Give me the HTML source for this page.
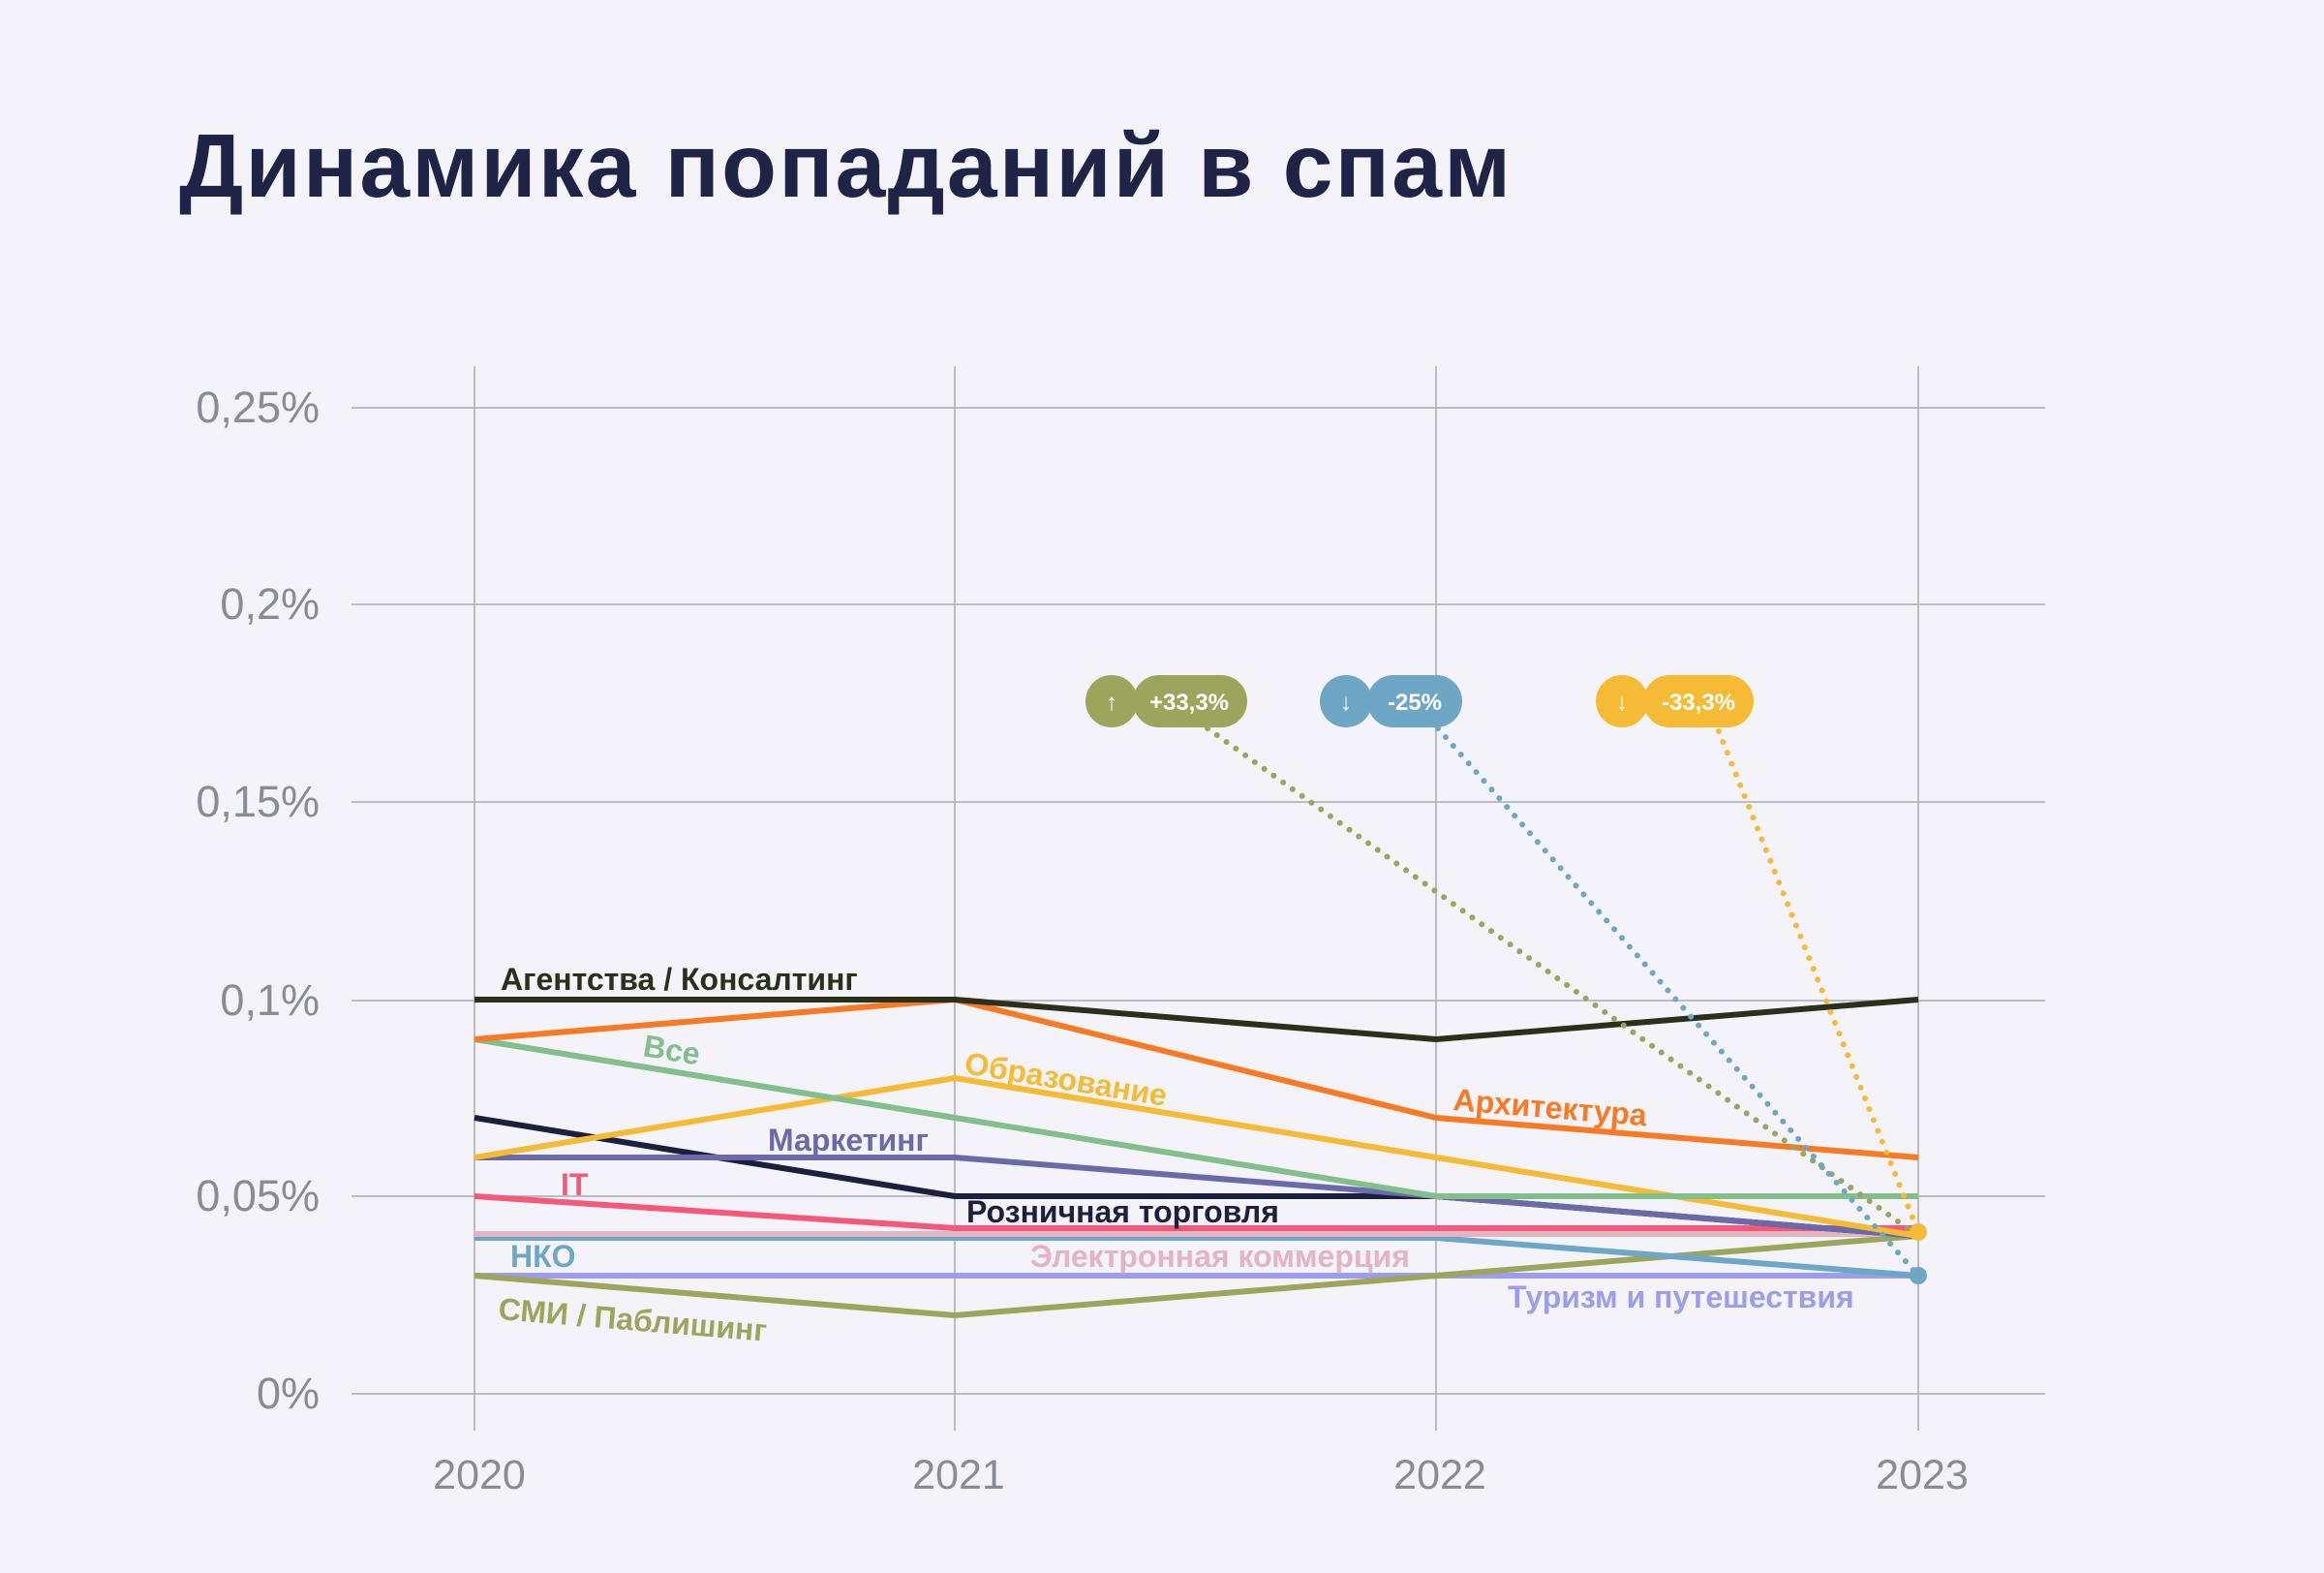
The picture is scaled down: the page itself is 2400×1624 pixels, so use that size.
<!DOCTYPE html>
<html><head><meta charset="utf-8"><style>
body{margin:0;background:#f3f3f9;}
svg{display:block}
</style></head><body>
<svg width="2400" height="1624" viewBox="0 0 2400 1624" xmlns="http://www.w3.org/2000/svg" font-family="Liberation Sans, DejaVu Sans, sans-serif">
<rect width="2400" height="1624" fill="#f3f3f9"/>
<text x="185" y="203" font-size="93" font-weight="bold" fill="#1f2346" textLength="1375" lengthAdjust="spacing">Динамика попаданий в спам</text>
<g stroke="#a9a9b3" stroke-width="1.5">
<line x1="490" y1="378" x2="490" y2="1477"/><line x1="986" y1="378" x2="986" y2="1477"/>
<line x1="1483" y1="378" x2="1483" y2="1477"/><line x1="1981" y1="378" x2="1981" y2="1477"/>
<line x1="363" y1="421" x2="2112" y2="421"/><line x1="363" y1="624" x2="2112" y2="624"/>
<line x1="363" y1="828" x2="2112" y2="828"/><line x1="363" y1="1033" x2="2112" y2="1033"/>
<line x1="363" y1="1235" x2="2112" y2="1235"/><line x1="363" y1="1439" x2="2112" y2="1439"/>
</g>
<g font-size="45" fill="#8a8b99" text-anchor="end">
<text x="330" y="436">0,25%</text><text x="330" y="639">0,2%</text><text x="330" y="843">0,15%</text>
<text x="330" y="1048">0,1%</text><text x="330" y="1250">0,05%</text><text x="330" y="1454">0%</text>
</g>
<g font-size="43" fill="#8a8b99" text-anchor="middle">
<text x="495" y="1537">2020</text><text x="990" y="1537">2021</text><text x="1487" y="1537">2022</text><text x="1985" y="1537">2023</text>
</g>
<g fill="none" stroke-width="6" stroke-linejoin="round">
<polyline stroke="#9c9dec" points="490,1317 986,1317 1483,1317 1981,1317"/>
<polyline stroke="#9da45c" points="490,1317 986,1358 1483,1317 1981,1276"/>
<polyline stroke="#6ea6c6" points="490,1278 986,1278 1483,1278 1981,1317"/>
<polyline stroke="#e3b4c2" points="490,1274 986,1274 1483,1274 1981,1274"/>
<polyline stroke="#f5587a" points="490,1235 986,1268 1483,1268 1981,1268"/>
<polyline stroke="#1c1f3e" points="490,1154 986,1235 1483,1235 1981,1276"/>
<polyline stroke="#6a6aaa" points="490,1195 986,1195 1483,1235 1981,1276"/>
<polyline stroke="#f5bb35" points="490,1195 986,1113 1483,1195 1981,1276"/>
<polyline stroke="#82bf8a" points="490,1073 986,1154 1483,1235 1981,1235"/>
<polyline stroke="#f97a22" points="490,1073 986,1032 1483,1154 1981,1195"/>
<polyline stroke="#2a3019" points="490,1032 986,1032 1483,1073 1981,1032"/>
</g>
<g stroke-width="6" stroke-linecap="round" stroke-dasharray="0 12" fill="none">
<line x1="1247" y1="752" x2="1981" y2="1276" stroke="#9da45c"/>
<line x1="1485" y1="752" x2="1981" y2="1317" stroke="#6ea6c6"/>
<line x1="1775" y1="755" x2="1981" y2="1272" stroke="#f5bb35"/>
</g>
<circle cx="1981" cy="1272" r="9" fill="#f5bb35"/>
<circle cx="1981" cy="1317" r="9" fill="#6ea6c6"/>
<g font-size="24" font-weight="bold" fill="#fff">
<circle cx="1148" cy="724" r="27" fill="#9da45c"/><rect x="1170" y="697" width="118" height="54" rx="27" fill="#9da45c"/>
<text x="1148" y="733" text-anchor="middle">↑</text><text x="1228" y="733" text-anchor="middle">+33,3%</text>
<circle cx="1390" cy="724" r="27" fill="#6ea6c6"/><rect x="1412" y="697" width="98" height="54" rx="27" fill="#6ea6c6"/>
<text x="1390" y="733" text-anchor="middle">↓</text><text x="1461" y="733" text-anchor="middle">-25%</text>
<circle cx="1675" cy="724" r="27" fill="#f5bb35"/><rect x="1697" y="697" width="114" height="54" rx="27" fill="#f5bb35"/>
<text x="1675" y="733" text-anchor="middle">↓</text><text x="1754" y="733" text-anchor="middle">-33,3%</text>
</g>
<g font-size="32" font-weight="bold">
<text x="517" y="1022" fill="#2a3019">Агентства / Консалтинг</text>
<text x="663" y="1090" fill="#82bf8a" transform="rotate(9.4 663 1090)">Все</text>
<text x="995" y="1108" fill="#f5bb35" transform="rotate(9.3 995 1108)">Образование</text>
<text x="1500" y="1146" fill="#f97a22" transform="rotate(4.7 1500 1146)">Архитектура</text>
<text x="793" y="1188" fill="#6a6aaa">Маркетинг</text>
<text x="579" y="1234" fill="#f5587a">IT</text>
<text x="998" y="1262" fill="#1c1f3e">Розничная торговля</text>
<text x="527" y="1308" fill="#6ea6c6">НКО</text>
<text x="1064" y="1308" fill="#e3b4c2">Электронная коммерция</text>
<text x="1557" y="1350" fill="#9c9dec">Туризм и путешествия</text>
<text x="514" y="1362" fill="#9da45c" transform="rotate(4.7 514 1362)">СМИ / Паблишинг</text>
</g>
</svg>
</body></html>
